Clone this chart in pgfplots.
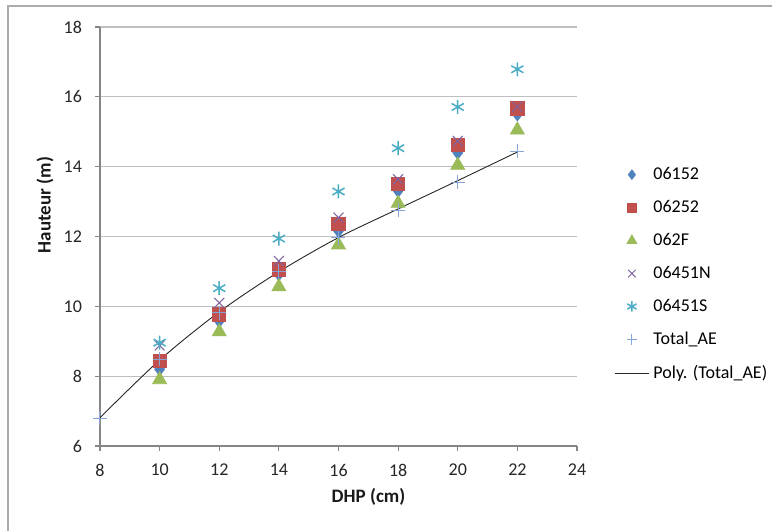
\documentclass[border=0pt]{standalone}
\usepackage{pgfplots}
\pgfplotsset{compat=1.18}
\usepackage{fontspec}
\setmainfont{Carlito}
\usetikzlibrary{plotmarks}
\definecolor{cA}{HTML}{4F81BD}
\definecolor{cB}{HTML}{C0504D}
\definecolor{cC}{HTML}{9BBB59}
\definecolor{cD}{HTML}{8064A2}
\definecolor{cE}{HTML}{4BACC6}
\definecolor{cF}{HTML}{86A4D8}
\definecolor{gridc}{HTML}{BFBFBF}
\definecolor{axc}{HTML}{868686}
\pgfplotsset{smallmark/.style={legend image post style={/tikz/every mark/.append style={scale=#1}}}}
\begin{document}
\begin{tikzpicture}
\begin{axis}[
  at={(50pt,42.5pt)}, anchor=south west,
  scale only axis, width=238.5pt, height=209.5pt,
  xmin=8, xmax=24, ymin=6, ymax=18,
  xtick={8,10,...,24}, ytick={6,8,...,18},
  ymajorgrids, grid style={color=gridc, line width=0.65pt},
  axis x line*=bottom, axis y line*=left,
  axis line style={color=axc, line width=0.6pt},
  tick style={color=axc, line width=0.6pt},
  tick align=outside, major tick length=2.5pt,
  /pgf/number format/assume math mode=true,
  ticklabel style={font=\fontsize{9}{10}\selectfont, text=black!85},
  xticklabel style={yshift=-3pt},
  yticklabel style={xshift=-3pt},
  xlabel={\bfseries DHP (cm)}, ylabel={\bfseries Hauteur (m)},
  label style={font=\fontsize{9.5}{11}\selectfont, text=black!90},
  xlabel style={at={(axis description cs:0.563,-0.1217)}, anchor=center},
  ylabel style={at={(axis description cs:-0.1153,0.575)}, anchor=center},
  legend style={at={(axis description cs:1.065,0.41)}, anchor=west, draw=none, fill=none,
    font=\fontsize{9}{10}\selectfont, row sep=4.9pt},
  legend cell align=left,
  clip=false,
]
\addplot[only marks, mark=diamond*, color=cA, mark size=3.3pt, smallmark=0.72] coordinates {
(10,8.2) (12,9.58) (14,10.92) (16,12.16) (18,13.31) (20,14.4) (22,15.5)};
\addlegendentry{06152}
\addplot[only marks, mark=square*, color=cB, mark size=3.3pt, smallmark=0.7] coordinates {
(10,8.44) (12,9.77) (14,11.06) (16,12.35) (18,13.5) (20,14.62) (22,15.67)};
\addlegendentry{06252}
\addplot[only marks, mark=triangle*, color=cC, mark size=4pt, smallmark=0.7] coordinates {
(10,7.9) (12,9.27) (14,10.56) (16,11.76) (18,12.95) (20,14.04) (22,15.05)};
\addlegendentry{062F}
\addplot[only marks, mark=x, color=cD, mark size=3.5pt, mark options={line width=0.5pt}, smallmark=0.75] coordinates {
(10,8.88) (12,10.1) (14,11.3) (16,12.54) (18,13.64) (20,14.74) (22,15.72)};
\addlegendentry{06451N}
\addplot[only marks, mark=asterisk, color=cE, mark size=3.5pt, mark options={line width=0.75pt}, smallmark=0.75] coordinates {
(10,8.96) (12,10.52) (14,11.94) (16,13.29) (18,14.53) (20,15.71) (22,16.79)};
\addlegendentry{06451S}
\addplot[only marks, mark=+, color=cF, mark size=3.5pt, mark options={line width=0.5pt}, smallmark=0.75] coordinates {
(8,6.8) (10,8.48) (12,9.82) (14,11.01) (16,11.97) (18,12.75) (20,13.56) (22,14.44)};
\addlegendentry{Total\_AE}
\addplot[black!85, line width=0.45pt, smooth, mark=none] coordinates {
(8,6.81) (10,8.46) (12,9.84) (14,10.99) (16,11.97) (18,12.79) (20,13.6) (22,14.42)};
\addlegendentry{Poly. (Total\_AE)}
\end{axis}
\draw[color=gridc!90!black, line width=0.6pt] (4pt,0pt) -- (4pt,262.5pt) -- (386pt,262.5pt);
\pgfresetboundingbox
\useasboundingbox (0pt,0pt) rectangle (386pt,265.5pt);
\end{tikzpicture}
\end{document}
